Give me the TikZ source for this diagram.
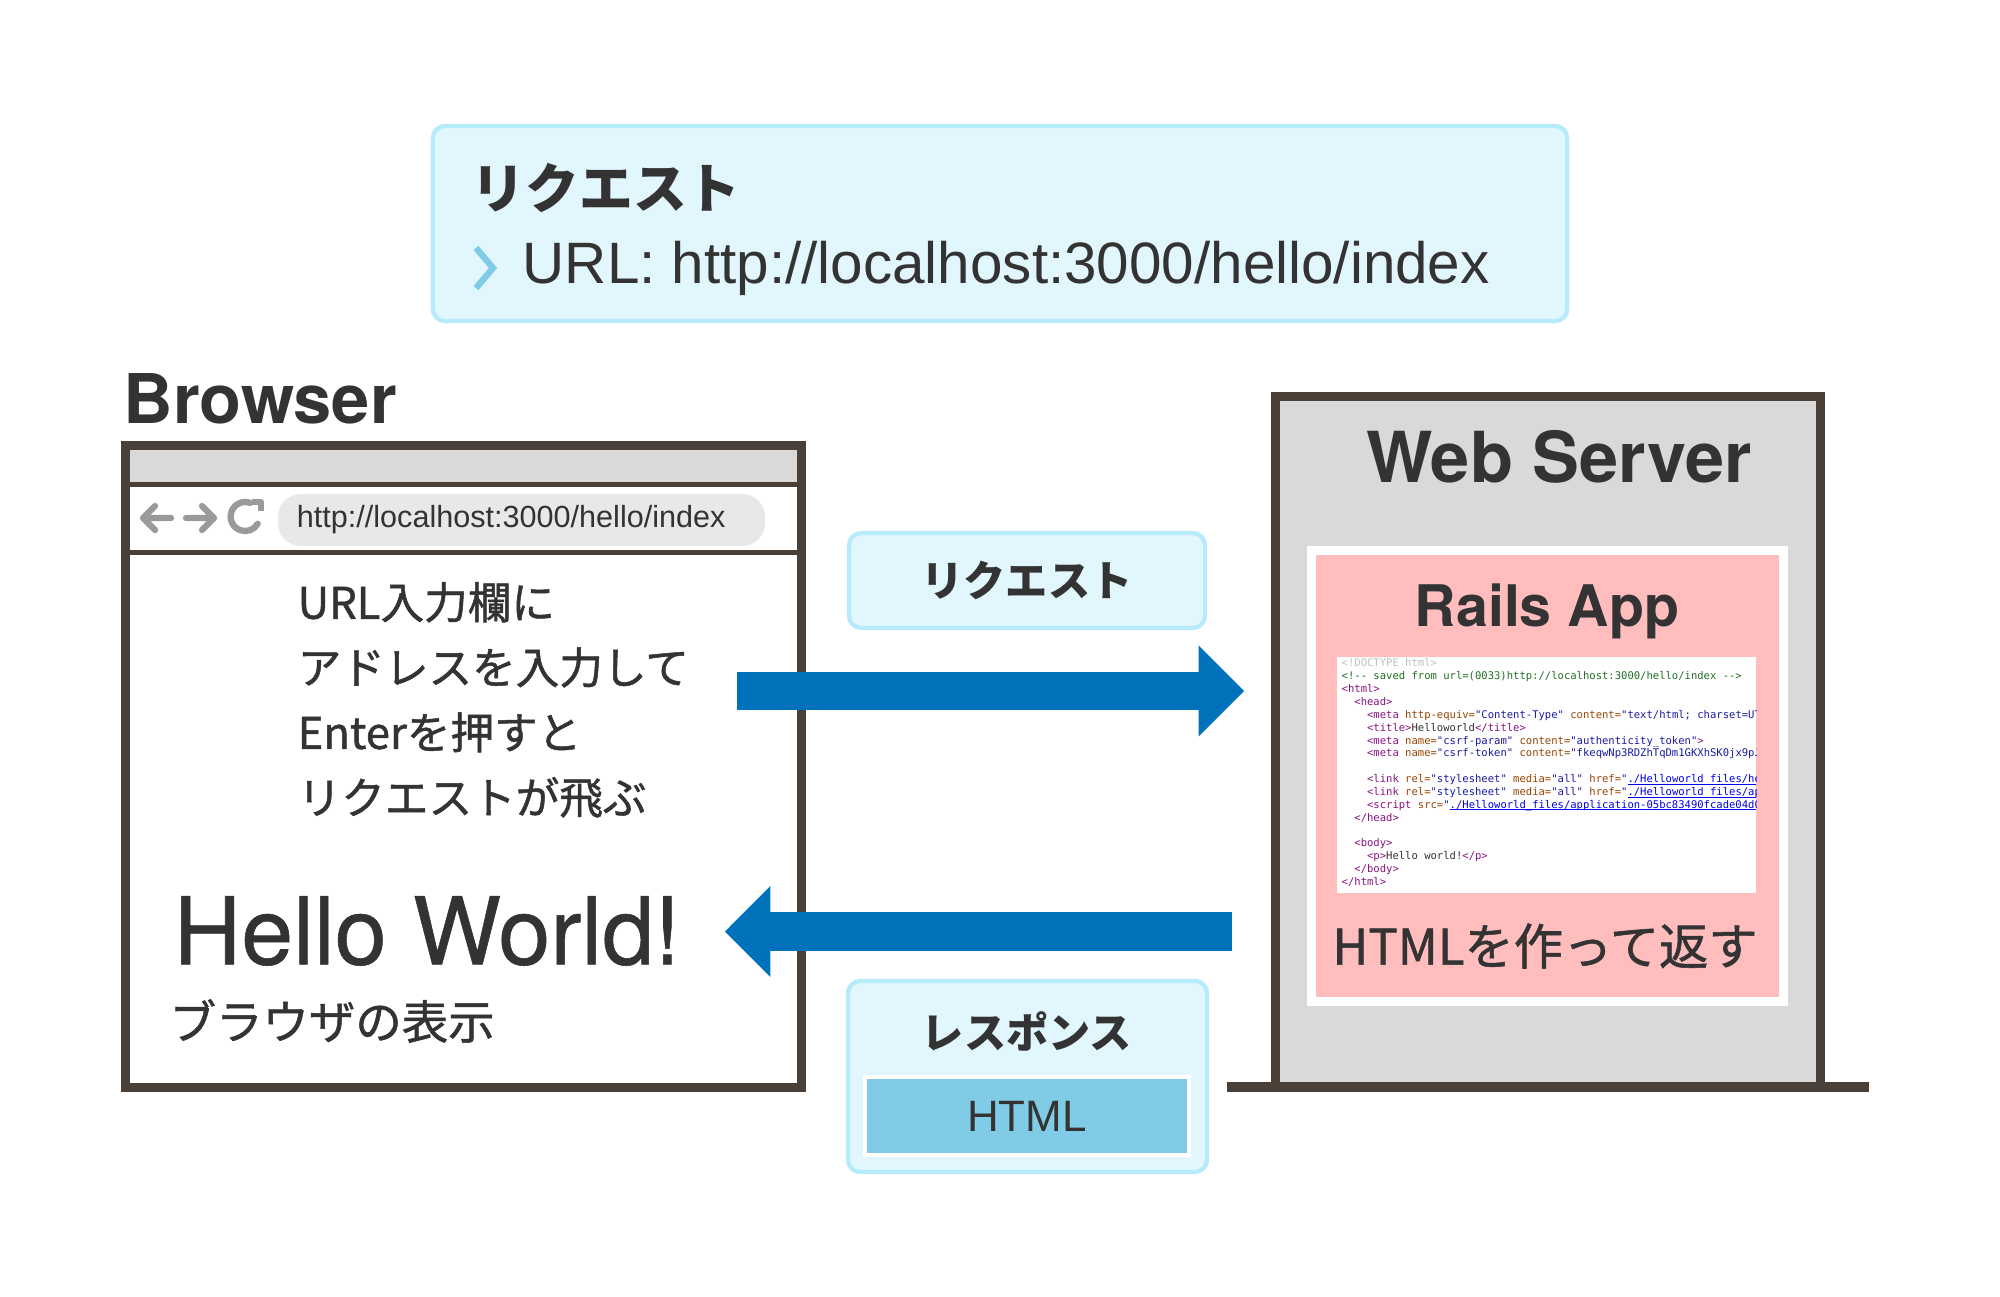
\documentclass[tikz,border=0pt]{standalone}
\usepackage{fontspec}
\setmainfont{TeX Gyre Heros}
\setmonofont{DejaVu Sans Mono}
\newfontfamily\jpfont{Noto Sans CJK JP}
\newfontfamily\jpmid{Noto Sans CJK JP}[FakeBold=1.1]
\newfontfamily\urlfont{Liberation Sans}
\newfontfamily\hellofont{TeX Gyre Heros}[FakeBold=0.6]
\usetikzlibrary{arrows.meta,positioning}

\definecolor{txtdark}{HTML}{333333}
\definecolor{framebrown}{HTML}{4B4037}
\definecolor{boxfill}{HTML}{E1F6FD}
\definecolor{boxline}{HTML}{B5EBFA}
\definecolor{arrowblue}{HTML}{0072BC}
\definecolor{htmlblue}{HTML}{80CCE6}
\definecolor{appink}{HTML}{FFBDBD}
\definecolor{servergray}{HTML}{D9D9D9}
\definecolor{pillgray}{HTML}{E8E8E8}
\definecolor{icongray}{HTML}{9A9A9A}
\definecolor{codetagc}{HTML}{881280}
\definecolor{codeattrc}{HTML}{994500}
\definecolor{codevalc}{HTML}{1A1AA6}
\definecolor{codecomc}{HTML}{236E25}
\definecolor{codedocc}{HTML}{C0C0C0}
\definecolor{codelinkc}{HTML}{0000EE}

\newcommand{\codetag}[1]{\textcolor{codetagc}{#1}}
\newcommand{\codeattr}[1]{\textcolor{codeattrc}{#1}}
\newcommand{\codeval}[1]{\textcolor{codevalc}{#1}}
\newcommand{\codelink}[1]{\textcolor{codelinkc}{\setbox0\hbox{#1}\rlap{\rule[-0.45pt]{\wd0}{0.15pt}}\box0}}

\tikzset{
  infobox/.style={draw=boxline, fill=boxfill, line width=1.2pt, rounded corners=3.5pt},
  winframe/.style={draw=framebrown, line width=2.6pt},
  sepline/.style={draw=framebrown, line width=1.4pt},
  bigarrow/.style={draw=arrowblue, line width=10.9pt, -{Triangle[length=12.9pt, width=25.9pt, line width=0pt]}},
  navicon/.style={draw=icongray, line width=1.8pt, line cap=round, line join=round},
  jpbold/.style={font=\jpfont\bfseries\fontsize{#1}{#1}\selectfont, inner sep=0pt},
  jpplain/.style={font=\jpmid\fontsize{#1}{#1}\selectfont, inner sep=0pt},
  headline/.style={font=\bfseries\fontsize{#1}{#1}\selectfont, inner sep=0pt}
}

\begin{document}
\begin{tikzpicture}[x=0.01cm, y=-0.01cm, text=txtdark]
  \useasboundingbox (0,0) rectangle (2000,1297);

  % request info at the top
  \node[infobox, minimum width=11.34cm, minimum height=1.95cm] (reqinfo) at (1000,223.5) {};
  \node[jpbold=15.3pt, anchor=west] (reqtitle) at (471,188) {リクエスト};
  \draw[draw=htmlblue, line width=1.8pt, line join=miter] (476,248) -- (493,268) -- (476,288);
  \node[font=\urlfont\fontsize{16.6pt}{16.6pt}\selectfont, inner sep=0pt, anchor=west] (requrl) at (522,268) {URL: http://localhost:3000/hello/index};

  % browser window
  \node[headline=19.5pt, anchor=west] (browsername) at (123,399) {Browser};
  \node[winframe, fill=white, minimum width=6.76cm, minimum height=6.42cm] (browser) at (463.5,766.5) {};
  \fill[servergray] (130,450) rectangle (797,482);
  \draw[sepline] (126,484.5) -- (801,484.5);
  \draw[sepline] (126,552.5) -- (801,552.5);
  \node[fill=pillgray, rounded corners=6.5pt, minimum height=0.46cm, text width=4.49cm, inner xsep=0.19cm, align=left,
        font=\urlfont\fontsize{8.7pt}{8.7pt}\selectfont] (urlbar) at (521.5,520) {http://localhost:3000/hello/index};
  \draw[navicon] (171,518) -- (143,518) (155,506) -- (143,518) -- (155,530);
  \draw[navicon] (186,518) -- (214,518) (202,506) -- (214,518) -- (202,530);
  \draw[navicon] (250.1,502.9) arc[start angle=70, end angle=330, radius=0.145cm];
  \draw[navicon, line cap=butt] (252,502) -- (261,502) -- (261,511);

  \node[align=left, font=\jpmid\fontsize{12.4pt}{18.5pt}\selectfont, inner sep=0pt, anchor=west] (howto) at (297,700)
    {URL入力欄に\\アドレスを入力して\\Enterを押すと\\リクエストが飛ぶ};
  \node[font=\hellofont\fontsize{26.6pt}{26.6pt}\selectfont, inner sep=0pt, anchor=west] (hello) at (173,931) {Hello World!};
  \node[jpplain=13.2pt, anchor=west] (display) at (169,1021) {ブラウザの表示};

  % web server
  \node[winframe, fill=servergray, minimum width=5.44cm, minimum height=6.9cm] (server) at (1548,742) {};
  \draw[winframe] (1227,1087) -- (1869,1087);
  \node[headline=20pt] (servername) at (1559,457) {Web Server};
  \node[fill=appink, draw=white, line width=2.6pt, minimum width=4.72cm, minimum height=4.5cm] (railsapp) at (1547.5,776) {};
  \node[headline=16.3pt] (railsname) at (1547,611) {Rails App};
  \node[fill=white, minimum width=4.19cm, minimum height=2.36cm] (codebox) at (1546.5,775) {};
  \begin{scope}
    \clip (1337,657) rectangle (1756,893);
    \node[font=\ttfamily\fontsize{3pt}{3.66pt}\selectfont, align=left, inner sep=0pt, anchor=north west] (htmlcode) at (1341,658)
      {\textcolor{codedocc}{<!DOCTYPE html>}\\
       \textcolor{codecomc}{<!-- saved from url=(0033)http://localhost:3000/hello/index -->}\\
       \codetag{<html>}\\
       \phantom{xx}\codetag{<head>}\\
       \phantom{xxxx}\codetag{<meta} \codeattr{http-equiv=}\codeval{"Content-Type"} \codeattr{content=}\codeval{"text/html; charset=UTF}\\
       \phantom{xxxx}\codetag{<title>}Helloworld\codetag{</title>}\\
       \phantom{xxxx}\codetag{<meta} \codeattr{name=}\codeval{"csrf-param"} \codeattr{content=}\codeval{"authenticity\_token"}\codetag{>}\\
       \phantom{xxxx}\codetag{<meta} \codeattr{name=}\codeval{"csrf-token"} \codeattr{content=}\codeval{"fkeqwNp3RDZhTqDm1GKXhSK0jx9pJK}\\
       ~\\
       \phantom{xxxx}\codetag{<link} \codeattr{rel=}\codeval{"stylesheet"} \codeattr{media=}\codeval{"all"} \codeattr{href=}\codeval{"}\codelink{./Helloworld\_files/hel}\\
       \phantom{xxxx}\codetag{<link} \codeattr{rel=}\codeval{"stylesheet"} \codeattr{media=}\codeval{"all"} \codeattr{href=}\codeval{"}\codelink{./Helloworld\_files/app}\\
       \phantom{xxxx}\codetag{<script} \codeattr{src=}\codeval{"}\codelink{./Helloworld\_files/application-05bc83490fcade04d05}\\
       \phantom{xx}\codetag{</head>}\\
       ~\\
       \phantom{xx}\codetag{<body>}\\
       \phantom{xxxx}\codetag{<p>}Hello world!\codetag{</p>}\\
       \phantom{xx}\codetag{</body>}\\
       \codetag{</html>}};
  \end{scope}
  \node[jpplain=14pt] (makehtml) at (1545,946) {HTMLを作って返す};

  % request / response
  \coordinate (reqfrom) at (737,691);
  \coordinate (reqto) at (1244,691);
  \coordinate (resfrom) at (1232,931.5);
  \coordinate (resto) at (725,931.5);
  \draw[bigarrow] (reqfrom) -- (reqto);
  \draw[bigarrow] (resfrom) -- (resto);

  \node[infobox, minimum width=3.56cm, minimum height=0.95cm, jpbold=12pt] (reqlabel) at (1027,580.5) {リクエスト};
  \node[infobox, minimum width=3.59cm, minimum height=1.91cm] (resbox) at (1027.5,1076.5) {};
  \node[jpbold=12pt] (reslabel) at (1027,1031) {レスポンス};
  \node[fill=htmlblue, draw=white, line width=1.3pt, minimum width=3.24cm, minimum height=0.78cm,
        font=\urlfont\fontsize{12.5pt}{12.5pt}\selectfont] (htmlbody) at (1027,1116) {HTML};
\end{tikzpicture}
\end{document}
